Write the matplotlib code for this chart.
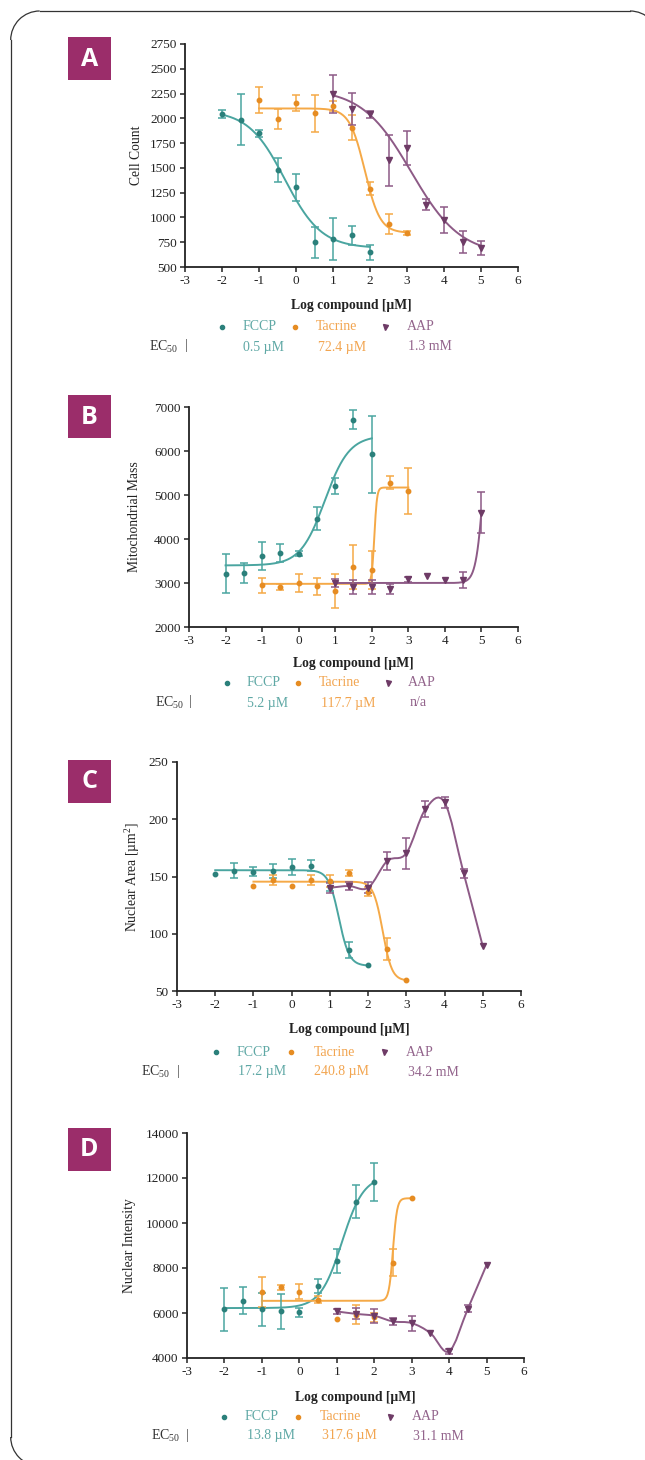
import numpy as np
import matplotlib
matplotlib.use("Agg")
import matplotlib.pyplot as plt
from matplotlib.patches import Rectangle, PathPatch, Arc
from matplotlib.path import Path

plt.rcParams['font.family'] = ['Liberation Serif', 'DejaVu Serif']
plt.rcParams['mathtext.fontset'] = 'custom'
plt.rcParams['mathtext.rm'] = 'Liberation Serif'
plt.rcParams['mathtext.it'] = 'Liberation Serif:italic'
plt.rcParams['axes.unicode_minus'] = False

W, H = 645, 1460

# log concentrations [uM] per compound
fccp_x = [-2, -1.5, -1, -0.5, 0, 0.5, 1, 1.5, 2]
tacrine_x = [-1, -0.5, 0, 0.5, 1, 1.5, 2, 2.5, 3]
aap_x = [1, 1.5, 2, 2.5, 3, 3.5, 4, 4.5, 5]

# A - cell count
cell_fccp = [2045, 1984, 1850, 1480, 1306, 748, 782, 819, 648]
cell_fccp_err = [42, 258, 35, 118, 136, 156, 208, 92, 74]
cell_tacrine = [2186, 1994, 2159, 2051, 2120, 1907, 1290, 937, 843]
cell_tacrine_err = [130, 105, 80, 185, 50, 126, 65, 100, 22]
cell_aap = [2246, 2091, 2041, 1575, 1699, 1128, 977, 752, 691]
cell_aap_err = [190, 160, 35, 260, 170, 55, 130, 110, 73]
# fit: bottom, top, logEC50, hill
cell_fccp_fit = (690, 2080, np.log10(0.5), -0.88)
cell_tacrine_fit = (845, 2100, np.log10(72.4), -2.1)
cell_aap_fit = (620, 2300, np.log10(1300), -0.65)

# B - mitochondrial mass
mito_fccp = [3212, 3227, 3606, 3682, 3667, 4462, 5205, 6712, 5924]
mito_fccp_err = [436, 230, 315, 200, 55, 265, 175, 210, 870]
mito_tacrine = [2947, 2909, 3000, 2924, 2818, 3364, 3288, 5280, 5091]
mito_tacrine_err = [170, 60, 200, 190, 380, 510, 430, 150, 530]
mito_aap = [3000, 2909, 2909, 2871, 3080, 3159, 3076, 3060, 4598]
mito_aap_err = [80, 150, 150, 110, 60, 0, 0, 180, 470]
mito_fccp_fit = (3400, 6350, np.log10(5.2), 1.3)
mito_tacrine_fit = (2980, 5170, np.log10(117.7), 12)
mito_aap_fit = (3000, 8000, 5.08, 4)

# C - nuclear area
area_fccp = [151.9, 155.1, 154.2, 155.1, 158.0, 159.5, 141, 86.2, 72.5]
area_fccp_err = [0, 6.5, 4, 6, 7, 4.5, 4, 7, 0]
area_tacrine = [142, 147, 142, 147, 146, 152.8, 136.7, 87, 60]
area_tacrine_err = [0, 4, 0, 4.5, 5, 2.5, 4, 9.5, 0]
area_aap = [140.2, 141.7, 140.2, 163.6, 170.3, 208.8, 214.7, 152.8, 89.1]
area_aap_err = [4.4, 3.6, 5, 8, 13.5, 7, 4.5, 3.8, 0]
area_fccp_fit = (72, 155.5, np.log10(17.2), -3.2)
area_tacrine_fit = (59, 145.5, np.log10(240.8), -3.6)

# D - nuclear intensity
int_fccp = [6171, 6555, 6171, 6068, 6024, 7205, 8313, 10942, 11828]
int_fccp_err = [960, 590, 740, 775, 220, 300, 540, 740, 830]
int_tacrine = [6925, 7146, 6954, 6585, 5728, 5920, 5820, 8239, 11090]
int_tacrine_err = [680, 120, 320, 150, 0, 420, 200, 600, 0]
int_aap = [6068, 5964, 5876, 5625, 5551, 5108, 4295, 6186, 8136]
int_aap_err = [120, 240, 310, 170, 330, 0, 125, 150, 0]
int_fccp_fit = (6220, 12100, np.log10(13.8), 1.5)
int_tacrine_fit = (6540, 11100, np.log10(317.6), 8)

compounds = ['FCCP', 'Tacrine', 'AAP']
ec50_cell = ['0.5 µM', '72.4 µM', '1.3 mM']
ec50_mito = ['5.2 µM', '117.7 µM', 'n/a']
ec50_area = ['17.2 µM', '240.8 µM', '34.2 mM']
ec50_int = ['13.8 µM', '317.6 µM', '31.1 mM']

line_colors = ['#4aa5a0', '#f5a947', '#8d5a86']
dot_colors = ['#2b807b', '#e68c22', '#6e3b66']
text_colors = ['#5fa8a5', '#f2a550', '#93648c']
markers = ['o', 'o', 'v']
badge_color = '#9b2d6a'


def four_pl(x, bottom, top, log_ec50, hill):
    return bottom + (top - bottom) / (1 + 10 ** ((log_ec50 - x) * hill))


def smooth_line(ax, x, y, color):
    # smooth connecting line (Catmull-Rom as cubic Bezier segments)
    x = np.asarray(x, float)
    y = np.asarray(y, float)
    m = np.gradient(y, x)
    verts = [(x[0], y[0])]
    codes = [Path.MOVETO]
    for i in range(len(x) - 1):
        dx = x[i + 1] - x[i]
        verts += [(x[i] + dx / 3, y[i] + m[i] * dx / 3),
                  (x[i + 1] - dx / 3, y[i + 1] - m[i + 1] * dx / 3),
                  (x[i + 1], y[i + 1])]
        codes += [Path.CURVE4] * 3
    ax.add_patch(PathPatch(Path(verts, codes), fill=False, edgecolor=color, lw=1.4, zorder=2))


panels = [
    dict(tag='A', box=(185, 44, 518, 267), ylabel='Cell Count', ylim=(500, 2750), yticks=np.arange(500, 2751, 250),
         series=[(fccp_x, cell_fccp, cell_fccp_err, cell_fccp_fit),
                 (tacrine_x, cell_tacrine, cell_tacrine_err, cell_tacrine_fit),
                 (aap_x, cell_aap, cell_aap_err, cell_aap_fit)],
         ec50=ec50_cell, ylab_x=136, xlab_y=306, leg_y=327, ec_y=347, badge_y=37,
         leg_m=[222, 295, 385], leg_t=[243, 316, 407], ec_x=149, bar_x=186, val_x=[243, 318, 408]),
    dict(tag='B', box=(189, 407, 518, 627), ylabel='Mitochondrial Mass', ylim=(2000, 7000), yticks=np.arange(2000, 7001, 1000),
         series=[(fccp_x, mito_fccp, mito_fccp_err, mito_fccp_fit),
                 (tacrine_x, mito_tacrine, mito_tacrine_err, mito_tacrine_fit),
                 (aap_x, mito_aap, mito_aap_err, mito_aap_fit)],
         ec50=ec50_mito, ylab_x=135, xlab_y=663, leg_y=683, ec_y=703, badge_y=395,
         leg_m=[227, 298, 388], leg_t=[247, 319, 408], ec_x=155, bar_x=190, val_x=[247, 321, 410]),
    dict(tag='C', box=(177, 762, 521, 991), ylabel='Nuclear Area [µm$^{2}$]', ylim=(50, 250), yticks=np.arange(50, 251, 50),
         series=[(fccp_x, area_fccp, area_fccp_err, area_fccp_fit),
                 (tacrine_x, area_tacrine, area_tacrine_err, area_tacrine_fit),
                 (aap_x, area_aap, area_aap_err, None)],
         ec50=ec50_area, ylab_x=133, xlab_y=1030, leg_y=1052, ec_y=1072, badge_y=760,
         leg_m=[216, 291, 384], leg_t=[237, 314, 406], ec_x=141, bar_x=178, val_x=[238, 314, 408]),
    dict(tag='D', box=(187, 1133, 524, 1358), ylabel='Nuclear Intensity', ylim=(4000, 14000), yticks=np.arange(4000, 14001, 2000),
         series=[(fccp_x, int_fccp, int_fccp_err, int_fccp_fit),
                 (tacrine_x, int_tacrine, int_tacrine_err, int_tacrine_fit),
                 (aap_x, int_aap, int_aap_err, None)],
         ec50=ec50_int, ylab_x=129, xlab_y=1397, leg_y=1417, ec_y=1436, badge_y=1128,
         leg_m=[224, 298, 390], leg_t=[245, 320, 412], ec_x=151, bar_x=187, val_x=[247, 322, 413]),
]

fig = plt.figure(figsize=(W / 100, H / 100), dpi=100)
fig.patch.set_facecolor('white')

# overlay in pixel units for frame, badges and legend rows
bg = fig.add_axes([0, 0, 1, 1])
bg.set_xlim(0, W)
bg.set_ylim(H, 0)
bg.axis('off')

# rounded frame: only the top, left and the corners that show on the canvas
frame_kw = dict(color='#333333', lw=0.9)
r = 29
fl, ft, fr, fb = 10.7, 11, 659, 1466
bg.plot([fl + r, fr - r], [ft, ft], **frame_kw)
bg.plot([fl, fl], [ft + r, fb - r], **frame_kw)
bg.add_patch(Arc((fl + r, ft + r), 2 * r, 2 * r, theta1=180, theta2=270, **frame_kw))
bg.add_patch(Arc((fr - r, ft + r), 2 * r, 2 * r, theta1=270, theta2=360, **frame_kw))
bg.add_patch(Arc((fl + r, fb - r), 2 * r, 2 * r, theta1=90, theta2=180, **frame_kw))

for p in panels:
    l, t, rr, b = p['box']
    ax = fig.add_axes([l / W, 1 - b / H, (rr - l) / W, (b - t) / H])
    ax.set_facecolor('none')

    for i, (xs, ys, errs, fit) in enumerate(p['series']):
        if fit is None:
            smooth_line(ax, xs, ys, line_colors[i])
        else:
            xx = np.linspace(xs[0], xs[-1], 300)
            ax.plot(xx, four_pl(xx, *fit), color=line_colors[i], lw=1.4, zorder=2)
        e = np.where(np.asarray(errs, float) > 0, errs, np.nan)
        ax.errorbar(xs, ys, yerr=e, fmt=markers[i], ms=3.2 if i < 2 else 3.8,
                    color=dot_colors[i], mec=dot_colors[i], ecolor=line_colors[i],
                    elinewidth=1.1, capsize=2.8, capthick=1.1, zorder=3)

    ax.set_xlim(-3, 6)
    ax.set_ylim(*p['ylim'])
    ax.set_xticks(range(-3, 7))
    ax.set_yticks(p['yticks'])
    for s in ['top', 'right']:
        ax.spines[s].set_visible(False)
    for s in ['left', 'bottom']:
        ax.spines[s].set_linewidth(1.3)
        ax.spines[s].set_color('#222222')
    ax.tick_params(direction='out', length=3.5, width=1.1, labelsize=9.5, pad=2.5, colors='#222222')

    ax.set_xlabel('Log compound [µM]', fontsize=9.8, fontweight='bold', color='#222222')
    ax.xaxis.label.set_va('center')
    ax.xaxis.set_label_coords(0.5, (b - p['xlab_y']) / (b - t))
    ax.set_ylabel(p['ylabel'], fontsize=9.8, color='#222222')
    ax.yaxis.label.set_va('center')
    ax.yaxis.set_label_coords((p['ylab_x'] - l) / (rr - l), 0.5)

    # panel badge
    by = p['badge_y']
    bg.add_patch(Rectangle((68, by), 43, 43, facecolor=badge_color, edgecolor='none'))
    bg.text(89.5, by + 22, p['tag'], color='white', fontsize=18, fontweight='bold',
            family=['Open Sans', 'DejaVu Sans'], ha='center', va='center')

    # legend row and EC50 row
    for i, name in enumerate(compounds):
        bg.plot(p['leg_m'][i], p['leg_y'], marker=markers[i], ms=3 if i < 2 else 3.6,
                color=dot_colors[i], ls='none')
        bg.text(p['leg_t'][i], p['leg_y'], name, color=text_colors[i], fontsize=10,
                ha='left', va='center')
        bg.text(p['val_x'][i], p['ec_y'], p['ec50'][i], color=text_colors[i], fontsize=10,
                ha='left', va='center')
    bg.text(p['ec_x'], p['ec_y'], r'EC$_{50}$', color='#333333', fontsize=10, ha='left', va='center')
    bg.text(p['bar_x'], p['ec_y'] - 1, '|', color='#555555', fontsize=10, ha='center', va='center')

fig.savefig('out.png', dpi=100)
